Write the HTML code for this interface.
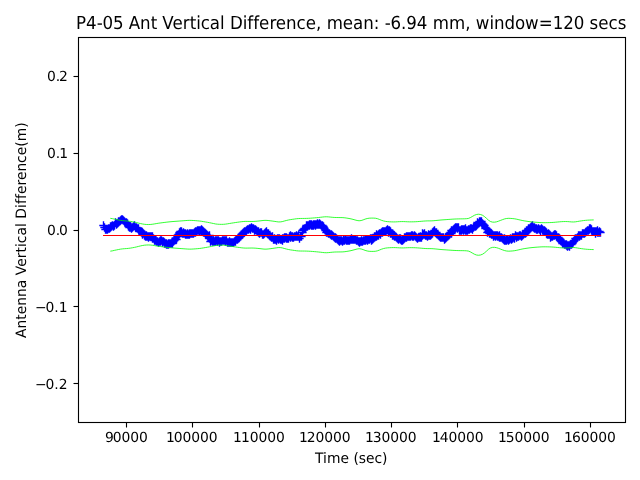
<!DOCTYPE html>
<html lang="en">
<head>
<meta charset="utf-8">
<title>P4-05 Ant Vertical Difference</title>
<style>
html,body{margin:0;padding:0;background:#fff;overflow:hidden}
svg{display:block}
text{font-family:'DejaVu Sans', 'Liberation Sans', sans-serif;fill:#000;text-rendering:geometricPrecision;}
.t{font-size:13.889px}
.h{font-size:16.667px}
</style>
</head>
<body>
<svg width="640" height="480" viewBox="0 0 640 480">
<rect x="0" y="0" width="640" height="480" fill="#fff"/>
<g id="series-diff"><path d="M99.3 225.5h8.33M103.5 221.3v8.33M100.3 227.5h8.33M104.5 223.3v8.33M101.3 229.5h8.33M105.5 225.3v8.33M101.3 229.5h8.33M105.5 225.3v8.33M102.3 229.5h8.33M106.5 225.3v8.33M103.3 229.5h8.33M107.5 225.3v8.33M103.3 229.5h8.33M107.5 225.3v8.33M104.3 228.5h8.33M108.5 224.3v8.33M105.3 228.5h8.33M109.5 224.3v8.33M105.3 228.5h8.33M109.5 224.3v8.33M106.3 227.5h8.33M110.5 223.3v8.33M106.3 226.5h8.33M110.5 222.3v8.33M107.3 226.5h8.33M111.5 222.3v8.33M108.3 225.5h8.33M112.5 221.3v8.33M108.3 225.5h8.33M112.5 221.3v8.33M109.3 226.5h8.33M113.5 222.3v8.33M110.3 225.5h8.33M114.5 221.3v8.33M110.3 225.5h8.33M114.5 221.3v8.33M111.3 222.5h8.33M115.5 218.3v8.33M112.3 223.5h8.33M116.5 219.3v8.33M112.3 224.5h8.33M116.5 220.3v8.33M113.3 223.5h8.33M117.5 219.3v8.33M114.3 222.5h8.33M118.5 218.3v8.33M114.3 221.5h8.33M118.5 217.3v8.33M115.3 221.5h8.33M119.5 217.3v8.33M116.3 220.5h8.33M120.5 216.3v8.33M116.3 220.5h8.33M120.5 216.3v8.33M117.3 219.5h8.33M121.5 215.3v8.33M118.3 219.5h8.33M122.5 215.3v8.33M118.3 219.5h8.33M122.5 215.3v8.33M119.3 220.5h8.33M123.5 216.3v8.33M120.3 221.5h8.33M124.5 217.3v8.33M120.3 221.5h8.33M124.5 217.3v8.33M121.3 222.5h8.33M125.5 218.3v8.33M122.3 222.5h8.33M126.5 218.3v8.33M122.3 223.5h8.33M126.5 219.3v8.33M123.3 223.5h8.33M127.5 219.3v8.33M124.3 225.5h8.33M128.5 221.3v8.33M124.3 226.5h8.33M128.5 222.3v8.33M125.3 227.5h8.33M129.5 223.3v8.33M126.3 226.5h8.33M130.5 222.3v8.33M126.3 227.5h8.33M130.5 223.3v8.33M127.3 228.5h8.33M131.5 224.3v8.33M128.3 227.5h8.33M132.5 223.3v8.33M128.3 227.5h8.33M132.5 223.3v8.33M129.3 226.5h8.33M133.5 222.3v8.33M130.3 225.5h8.33M134.5 221.3v8.33M130.3 225.5h8.33M134.5 221.3v8.33M131.3 227.5h8.33M135.5 223.3v8.33M132.3 227.5h8.33M136.5 223.3v8.33M132.3 227.5h8.33M136.5 223.3v8.33M133.3 228.5h8.33M137.5 224.3v8.33M134.3 228.5h8.33M138.5 224.3v8.33M134.3 229.5h8.33M138.5 225.3v8.33M135.3 231.5h8.33M139.5 227.3v8.33M136.3 231.5h8.33M140.5 227.3v8.33M136.3 231.5h8.33M140.5 227.3v8.33M137.3 231.5h8.33M141.5 227.3v8.33M138.3 232.5h8.33M142.5 228.3v8.33M138.3 234.5h8.33M142.5 230.3v8.33M139.3 233.5h8.33M143.5 229.3v8.33M140.3 234.5h8.33M144.5 230.3v8.33M140.3 235.5h8.33M144.5 231.3v8.33M141.3 236.5h8.33M145.5 232.3v8.33M142.3 236.5h8.33M146.5 232.3v8.33M142.3 235.5h8.33M146.5 231.3v8.33M143.3 236.5h8.33M147.5 232.3v8.33M144.3 237.5h8.33M148.5 233.3v8.33M144.3 236.5h8.33M148.5 232.3v8.33M145.3 236.5h8.33M149.5 232.3v8.33M146.3 236.5h8.33M150.5 232.3v8.33M146.3 236.5h8.33M150.5 232.3v8.33M147.3 236.5h8.33M151.5 232.3v8.33M148.3 236.5h8.33M152.5 232.3v8.33M148.3 238.5h8.33M152.5 234.3v8.33M149.3 238.5h8.33M153.5 234.3v8.33M150.3 239.5h8.33M154.5 235.3v8.33M150.3 240.5h8.33M154.5 236.3v8.33M151.3 240.5h8.33M155.5 236.3v8.33M152.3 241.5h8.33M156.5 237.3v8.33M152.3 241.5h8.33M156.5 237.3v8.33M153.3 241.5h8.33M157.5 237.3v8.33M154.3 242.5h8.33M158.5 238.3v8.33M154.3 242.5h8.33M158.5 238.3v8.33M155.3 241.5h8.33M159.5 237.3v8.33M156.3 240.5h8.33M160.5 236.3v8.33M156.3 241.5h8.33M160.5 237.3v8.33M157.3 240.5h8.33M161.5 236.3v8.33M158.3 241.5h8.33M162.5 237.3v8.33M158.3 242.5h8.33M162.5 238.3v8.33M159.3 241.5h8.33M163.5 237.3v8.33M160.3 243.5h8.33M164.5 239.3v8.33M160.3 242.5h8.33M164.5 238.3v8.33M161.3 243.5h8.33M165.5 239.3v8.33M162.3 243.5h8.33M166.5 239.3v8.33M162.3 244.5h8.33M166.5 240.3v8.33M163.3 244.5h8.33M167.5 240.3v8.33M164.3 243.5h8.33M168.5 239.3v8.33M164.3 244.5h8.33M168.5 240.3v8.33M165.3 243.5h8.33M169.5 239.3v8.33M166.3 243.5h8.33M170.5 239.3v8.33M166.3 243.5h8.33M170.5 239.3v8.33M167.3 243.5h8.33M171.5 239.3v8.33M168.3 243.5h8.33M172.5 239.3v8.33M168.3 241.5h8.33M172.5 237.3v8.33M169.3 241.5h8.33M173.5 237.3v8.33M170.3 240.5h8.33M174.5 236.3v8.33M170.3 240.5h8.33M174.5 236.3v8.33M171.3 239.5h8.33M175.5 235.3v8.33M171.3 238.5h8.33M175.5 234.3v8.33M172.3 239.5h8.33M176.5 235.3v8.33M173.3 236.5h8.33M177.5 232.3v8.33M173.3 235.5h8.33M177.5 231.3v8.33M174.3 234.5h8.33M178.5 230.3v8.33M175.3 233.5h8.33M179.5 229.3v8.33M175.3 232.5h8.33M179.5 228.3v8.33M176.3 231.5h8.33M180.5 227.3v8.33M177.3 232.5h8.33M181.5 228.3v8.33M177.3 231.5h8.33M181.5 227.3v8.33M178.3 233.5h8.33M182.5 229.3v8.33M179.3 233.5h8.33M183.5 229.3v8.33M179.3 232.5h8.33M183.5 228.3v8.33M180.3 233.5h8.33M184.5 229.3v8.33M181.3 233.5h8.33M185.5 229.3v8.33M181.3 234.5h8.33M185.5 230.3v8.33M182.3 234.5h8.33M186.5 230.3v8.33M183.3 234.5h8.33M187.5 230.3v8.33M183.3 233.5h8.33M187.5 229.3v8.33M184.3 234.5h8.33M188.5 230.3v8.33M185.3 234.5h8.33M189.5 230.3v8.33M185.3 233.5h8.33M189.5 229.3v8.33M186.3 233.5h8.33M190.5 229.3v8.33M187.3 233.5h8.33M191.5 229.3v8.33M187.3 233.5h8.33M191.5 229.3v8.33M188.3 233.5h8.33M192.5 229.3v8.33M189.3 233.5h8.33M193.5 229.3v8.33M189.3 233.5h8.33M193.5 229.3v8.33M190.3 232.5h8.33M194.5 228.3v8.33M191.3 231.5h8.33M195.5 227.3v8.33M191.3 232.5h8.33M195.5 228.3v8.33M192.3 231.5h8.33M196.5 227.3v8.33M193.3 230.5h8.33M197.5 226.3v8.33M193.3 230.5h8.33M197.5 226.3v8.33M194.3 230.5h8.33M198.5 226.3v8.33M195.3 231.5h8.33M199.5 227.3v8.33M195.3 230.5h8.33M199.5 226.3v8.33M196.3 230.5h8.33M200.5 226.3v8.33M197.3 229.5h8.33M201.5 225.3v8.33M197.3 231.5h8.33M201.5 227.3v8.33M198.3 230.5h8.33M202.5 226.3v8.33M199.3 231.5h8.33M203.5 227.3v8.33M199.3 232.5h8.33M203.5 228.3v8.33M200.3 232.5h8.33M204.5 228.3v8.33M201.3 233.5h8.33M205.5 229.3v8.33M201.3 234.5h8.33M205.5 230.3v8.33M202.3 234.5h8.33M206.5 230.3v8.33M203.3 235.5h8.33M207.5 231.3v8.33M203.3 235.5h8.33M207.5 231.3v8.33M204.3 236.5h8.33M208.5 232.3v8.33M205.3 235.5h8.33M209.5 231.3v8.33M205.3 238.5h8.33M209.5 234.3v8.33M206.3 241.5h8.33M210.5 237.3v8.33M207.3 240.5h8.33M211.5 236.3v8.33M207.3 240.5h8.33M211.5 236.3v8.33M208.3 241.5h8.33M212.5 237.3v8.33M209.3 241.5h8.33M213.5 237.3v8.33M209.3 240.5h8.33M213.5 236.3v8.33M210.3 241.5h8.33M214.5 237.3v8.33M211.3 240.5h8.33M215.5 236.3v8.33M211.3 241.5h8.33M215.5 237.3v8.33M212.3 240.5h8.33M216.5 236.3v8.33M213.3 240.5h8.33M217.5 236.3v8.33M213.3 241.5h8.33M217.5 237.3v8.33M214.3 240.5h8.33M218.5 236.3v8.33M215.3 241.5h8.33M219.5 237.3v8.33M215.3 242.5h8.33M219.5 238.3v8.33M216.3 241.5h8.33M220.5 237.3v8.33M217.3 241.5h8.33M221.5 237.3v8.33M217.3 241.5h8.33M221.5 237.3v8.33M218.3 240.5h8.33M222.5 236.3v8.33M219.3 240.5h8.33M223.5 236.3v8.33M219.3 240.5h8.33M223.5 236.3v8.33M220.3 240.5h8.33M224.5 236.3v8.33M221.3 240.5h8.33M225.5 236.3v8.33M221.3 241.5h8.33M225.5 237.3v8.33M222.3 240.5h8.33M226.5 236.3v8.33M223.3 242.5h8.33M227.5 238.3v8.33M223.3 242.5h8.33M227.5 238.3v8.33M224.3 242.5h8.33M228.5 238.3v8.33M225.3 241.5h8.33M229.5 237.3v8.33M225.3 242.5h8.33M229.5 238.3v8.33M226.3 242.5h8.33M230.5 238.3v8.33M227.3 242.5h8.33M231.5 238.3v8.33M227.3 242.5h8.33M231.5 238.3v8.33M228.3 242.5h8.33M232.5 238.3v8.33M229.3 242.5h8.33M233.5 238.3v8.33M229.3 242.5h8.33M233.5 238.3v8.33M230.3 241.5h8.33M234.5 237.3v8.33M231.3 241.5h8.33M235.5 237.3v8.33M231.3 240.5h8.33M235.5 236.3v8.33M232.3 239.5h8.33M236.5 235.3v8.33M233.3 239.5h8.33M237.5 235.3v8.33M233.3 239.5h8.33M237.5 235.3v8.33M234.3 238.5h8.33M238.5 234.3v8.33M235.3 237.5h8.33M239.5 233.3v8.33M235.3 237.5h8.33M239.5 233.3v8.33M236.3 236.5h8.33M240.5 232.3v8.33M236.3 236.5h8.33M240.5 232.3v8.33M237.3 234.5h8.33M241.5 230.3v8.33M238.3 234.5h8.33M242.5 230.3v8.33M238.3 233.5h8.33M242.5 229.3v8.33M239.3 232.5h8.33M243.5 228.3v8.33M240.3 232.5h8.33M244.5 228.3v8.33M240.3 231.5h8.33M244.5 227.3v8.33M241.3 231.5h8.33M245.5 227.3v8.33M242.3 230.5h8.33M246.5 226.3v8.33M242.3 230.5h8.33M246.5 226.3v8.33M243.3 229.5h8.33M247.5 225.3v8.33M244.3 229.5h8.33M248.5 225.3v8.33M244.3 229.5h8.33M248.5 225.3v8.33M245.3 228.5h8.33M249.5 224.3v8.33M246.3 229.5h8.33M250.5 225.3v8.33M246.3 228.5h8.33M250.5 224.3v8.33M247.3 227.5h8.33M251.5 223.3v8.33M248.3 228.5h8.33M252.5 224.3v8.33M248.3 228.5h8.33M252.5 224.3v8.33M249.3 228.5h8.33M253.5 224.3v8.33M250.3 229.5h8.33M254.5 225.3v8.33M250.3 230.5h8.33M254.5 226.3v8.33M251.3 229.5h8.33M255.5 225.3v8.33M252.3 230.5h8.33M256.5 226.3v8.33M252.3 230.5h8.33M256.5 226.3v8.33M253.3 231.5h8.33M257.5 227.3v8.33M254.3 231.5h8.33M258.5 227.3v8.33M254.3 232.5h8.33M258.5 228.3v8.33M255.3 233.5h8.33M259.5 229.3v8.33M256.3 232.5h8.33M260.5 228.3v8.33M256.3 232.5h8.33M260.5 228.3v8.33M257.3 232.5h8.33M261.5 228.3v8.33M258.3 234.5h8.33M262.5 230.3v8.33M258.3 234.5h8.33M262.5 230.3v8.33M259.3 234.5h8.33M263.5 230.3v8.33M260.3 233.5h8.33M264.5 229.3v8.33M260.3 233.5h8.33M264.5 229.3v8.33M261.3 232.5h8.33M265.5 228.3v8.33M262.3 232.5h8.33M266.5 228.3v8.33M262.3 231.5h8.33M266.5 227.3v8.33M263.3 233.5h8.33M267.5 229.3v8.33M264.3 233.5h8.33M268.5 229.3v8.33M264.3 234.5h8.33M268.5 230.3v8.33M265.3 235.5h8.33M269.5 231.3v8.33M266.3 236.5h8.33M270.5 232.3v8.33M266.3 236.5h8.33M270.5 232.3v8.33M267.3 237.5h8.33M271.5 233.3v8.33M268.3 236.5h8.33M272.5 232.3v8.33M268.3 237.5h8.33M272.5 233.3v8.33M269.3 239.5h8.33M273.5 235.3v8.33M270.3 238.5h8.33M274.5 234.3v8.33M270.3 239.5h8.33M274.5 235.3v8.33M271.3 239.5h8.33M275.5 235.3v8.33M272.3 239.5h8.33M276.5 235.3v8.33M272.3 240.5h8.33M276.5 236.3v8.33M273.3 238.5h8.33M277.5 234.3v8.33M274.3 238.5h8.33M278.5 234.3v8.33M274.3 239.5h8.33M278.5 235.3v8.33M275.3 238.5h8.33M279.5 234.3v8.33M276.3 239.5h8.33M280.5 235.3v8.33M276.3 239.5h8.33M280.5 235.3v8.33M277.3 239.5h8.33M281.5 235.3v8.33M278.3 238.5h8.33M282.5 234.3v8.33M278.3 240.5h8.33M282.5 236.3v8.33M279.3 238.5h8.33M283.5 234.3v8.33M280.3 237.5h8.33M284.5 233.3v8.33M280.3 238.5h8.33M284.5 234.3v8.33M281.3 237.5h8.33M285.5 233.3v8.33M282.3 237.5h8.33M286.5 233.3v8.33M282.3 238.5h8.33M286.5 234.3v8.33M283.3 238.5h8.33M287.5 234.3v8.33M284.3 238.5h8.33M288.5 234.3v8.33M284.3 238.5h8.33M288.5 234.3v8.33M285.3 236.5h8.33M289.5 232.3v8.33M286.3 235.5h8.33M290.5 231.3v8.33M286.3 237.5h8.33M290.5 233.3v8.33M287.3 236.5h8.33M291.5 232.3v8.33M288.3 236.5h8.33M292.5 232.3v8.33M288.3 237.5h8.33M292.5 233.3v8.33M289.3 237.5h8.33M293.5 233.3v8.33M290.3 236.5h8.33M294.5 232.3v8.33M290.3 236.5h8.33M294.5 232.3v8.33M291.3 236.5h8.33M295.5 232.3v8.33M292.3 236.5h8.33M296.5 232.3v8.33M292.3 235.5h8.33M296.5 231.3v8.33M293.3 236.5h8.33M297.5 232.3v8.33M294.3 235.5h8.33M298.5 231.3v8.33M294.3 236.5h8.33M298.5 232.3v8.33M295.3 238.5h8.33M299.5 234.3v8.33M296.3 236.5h8.33M300.5 232.3v8.33M296.3 236.5h8.33M300.5 232.3v8.33M297.3 236.5h8.33M301.5 232.3v8.33M298.3 232.5h8.33M302.5 228.3v8.33M298.3 230.5h8.33M302.5 226.3v8.33M299.3 229.5h8.33M303.5 225.3v8.33M300.3 228.5h8.33M304.5 224.3v8.33M300.3 228.5h8.33M304.5 224.3v8.33M301.3 228.5h8.33M305.5 224.3v8.33M302.3 225.5h8.33M306.5 221.3v8.33M302.3 226.5h8.33M306.5 222.3v8.33M303.3 226.5h8.33M307.5 222.3v8.33M303.3 225.5h8.33M307.5 221.3v8.33M304.3 225.5h8.33M308.5 221.3v8.33M305.3 224.5h8.33M309.5 220.3v8.33M305.3 225.5h8.33M309.5 221.3v8.33M306.3 224.5h8.33M310.5 220.3v8.33M307.3 224.5h8.33M311.5 220.3v8.33M307.3 225.5h8.33M311.5 221.3v8.33M308.3 225.5h8.33M312.5 221.3v8.33M309.3 224.5h8.33M313.5 220.3v8.33M309.3 225.5h8.33M313.5 221.3v8.33M310.3 224.5h8.33M314.5 220.3v8.33M311.3 224.5h8.33M315.5 220.3v8.33M311.3 225.5h8.33M315.5 221.3v8.33M312.3 224.5h8.33M316.5 220.3v8.33M313.3 224.5h8.33M317.5 220.3v8.33M313.3 223.5h8.33M317.5 219.3v8.33M314.3 224.5h8.33M318.5 220.3v8.33M315.3 224.5h8.33M319.5 220.3v8.33M315.3 223.5h8.33M319.5 219.3v8.33M316.3 224.5h8.33M320.5 220.3v8.33M317.3 225.5h8.33M321.5 221.3v8.33M317.3 225.5h8.33M321.5 221.3v8.33M318.3 225.5h8.33M322.5 221.3v8.33M319.3 226.5h8.33M323.5 222.3v8.33M319.3 227.5h8.33M323.5 223.3v8.33M320.3 228.5h8.33M324.5 224.3v8.33M321.3 230.5h8.33M325.5 226.3v8.33M321.3 230.5h8.33M325.5 226.3v8.33M322.3 232.5h8.33M326.5 228.3v8.33M323.3 231.5h8.33M327.5 227.3v8.33M323.3 232.5h8.33M327.5 228.3v8.33M324.3 233.5h8.33M328.5 229.3v8.33M325.3 233.5h8.33M329.5 229.3v8.33M325.3 233.5h8.33M329.5 229.3v8.33M326.3 234.5h8.33M330.5 230.3v8.33M327.3 235.5h8.33M331.5 231.3v8.33M327.3 234.5h8.33M331.5 230.3v8.33M328.3 235.5h8.33M332.5 231.3v8.33M329.3 236.5h8.33M333.5 232.3v8.33M329.3 236.5h8.33M333.5 232.3v8.33M330.3 237.5h8.33M334.5 233.3v8.33M331.3 237.5h8.33M335.5 233.3v8.33M331.3 238.5h8.33M335.5 234.3v8.33M332.3 238.5h8.33M336.5 234.3v8.33M333.3 239.5h8.33M337.5 235.3v8.33M333.3 239.5h8.33M337.5 235.3v8.33M334.3 240.5h8.33M338.5 236.3v8.33M335.3 240.5h8.33M339.5 236.3v8.33M335.3 241.5h8.33M339.5 237.3v8.33M336.3 240.5h8.33M340.5 236.3v8.33M337.3 240.5h8.33M341.5 236.3v8.33M337.3 240.5h8.33M341.5 236.3v8.33M338.3 241.5h8.33M342.5 237.3v8.33M339.3 240.5h8.33M343.5 236.3v8.33M339.3 239.5h8.33M343.5 235.3v8.33M340.3 240.5h8.33M344.5 236.3v8.33M341.3 239.5h8.33M345.5 235.3v8.33M341.3 239.5h8.33M345.5 235.3v8.33M342.3 240.5h8.33M346.5 236.3v8.33M343.3 240.5h8.33M347.5 236.3v8.33M343.3 240.5h8.33M347.5 236.3v8.33M344.3 240.5h8.33M348.5 236.3v8.33M345.3 240.5h8.33M349.5 236.3v8.33M345.3 240.5h8.33M349.5 236.3v8.33M346.3 239.5h8.33M350.5 235.3v8.33M347.3 239.5h8.33M351.5 235.3v8.33M347.3 238.5h8.33M351.5 234.3v8.33M348.3 239.5h8.33M352.5 235.3v8.33M349.3 239.5h8.33M353.5 235.3v8.33M349.3 239.5h8.33M353.5 235.3v8.33M350.3 239.5h8.33M354.5 235.3v8.33M351.3 239.5h8.33M355.5 235.3v8.33M351.3 239.5h8.33M355.5 235.3v8.33M352.3 240.5h8.33M356.5 236.3v8.33M353.3 240.5h8.33M357.5 236.3v8.33M353.3 240.5h8.33M357.5 236.3v8.33M354.3 241.5h8.33M358.5 237.3v8.33M355.3 241.5h8.33M359.5 237.3v8.33M355.3 242.5h8.33M359.5 238.3v8.33M356.3 241.5h8.33M360.5 237.3v8.33M357.3 240.5h8.33M361.5 236.3v8.33M357.3 241.5h8.33M361.5 237.3v8.33M358.3 241.5h8.33M362.5 237.3v8.33M359.3 240.5h8.33M363.5 236.3v8.33M359.3 240.5h8.33M363.5 236.3v8.33M360.3 240.5h8.33M364.5 236.3v8.33M361.3 240.5h8.33M365.5 236.3v8.33M361.3 239.5h8.33M365.5 235.3v8.33M362.3 239.5h8.33M366.5 235.3v8.33M363.3 239.5h8.33M367.5 235.3v8.33M363.3 240.5h8.33M367.5 236.3v8.33M364.3 239.5h8.33M368.5 235.3v8.33M365.3 239.5h8.33M369.5 235.3v8.33M365.3 239.5h8.33M369.5 235.3v8.33M366.3 238.5h8.33M370.5 234.3v8.33M367.3 238.5h8.33M371.5 234.3v8.33M367.3 240.5h8.33M371.5 236.3v8.33M368.3 238.5h8.33M372.5 234.3v8.33M368.3 239.5h8.33M372.5 235.3v8.33M369.3 238.5h8.33M373.5 234.3v8.33M370.3 237.5h8.33M374.5 233.3v8.33M370.3 236.5h8.33M374.5 232.3v8.33M371.3 236.5h8.33M375.5 232.3v8.33M372.3 236.5h8.33M376.5 232.3v8.33M372.3 234.5h8.33M376.5 230.3v8.33M373.3 235.5h8.33M377.5 231.3v8.33M374.3 234.5h8.33M378.5 230.3v8.33M374.3 235.5h8.33M378.5 231.3v8.33M375.3 233.5h8.33M379.5 229.3v8.33M376.3 234.5h8.33M380.5 230.3v8.33M376.3 233.5h8.33M380.5 229.3v8.33M377.3 232.5h8.33M381.5 228.3v8.33M378.3 231.5h8.33M382.5 227.3v8.33M378.3 232.5h8.33M382.5 228.3v8.33M379.3 231.5h8.33M383.5 227.3v8.33M380.3 231.5h8.33M384.5 227.3v8.33M380.3 231.5h8.33M384.5 227.3v8.33M381.3 231.5h8.33M385.5 227.3v8.33M382.3 230.5h8.33M386.5 226.3v8.33M382.3 230.5h8.33M386.5 226.3v8.33M383.3 229.5h8.33M387.5 225.3v8.33M384.3 230.5h8.33M388.5 226.3v8.33M384.3 232.5h8.33M388.5 228.3v8.33M385.3 230.5h8.33M389.5 226.3v8.33M386.3 233.5h8.33M390.5 229.3v8.33M386.3 231.5h8.33M390.5 227.3v8.33M387.3 233.5h8.33M391.5 229.3v8.33M388.3 233.5h8.33M392.5 229.3v8.33M388.3 235.5h8.33M392.5 231.3v8.33M389.3 235.5h8.33M393.5 231.3v8.33M390.3 235.5h8.33M394.5 231.3v8.33M390.3 236.5h8.33M394.5 232.3v8.33M391.3 236.5h8.33M395.5 232.3v8.33M392.3 237.5h8.33M396.5 233.3v8.33M392.3 237.5h8.33M396.5 233.3v8.33M393.3 238.5h8.33M397.5 234.3v8.33M394.3 239.5h8.33M398.5 235.3v8.33M394.3 239.5h8.33M398.5 235.3v8.33M395.3 238.5h8.33M399.5 234.3v8.33M396.3 238.5h8.33M400.5 234.3v8.33M396.3 239.5h8.33M400.5 235.3v8.33M397.3 240.5h8.33M401.5 236.3v8.33M398.3 240.5h8.33M402.5 236.3v8.33M398.3 239.5h8.33M402.5 235.3v8.33M399.3 239.5h8.33M403.5 235.3v8.33M400.3 238.5h8.33M404.5 234.3v8.33M400.3 237.5h8.33M404.5 233.3v8.33M401.3 237.5h8.33M405.5 233.3v8.33M402.3 237.5h8.33M406.5 233.3v8.33M402.3 236.5h8.33M406.5 232.3v8.33M403.3 236.5h8.33M407.5 232.3v8.33M404.3 236.5h8.33M408.5 232.3v8.33M404.3 236.5h8.33M408.5 232.3v8.33M405.3 236.5h8.33M409.5 232.3v8.33M406.3 236.5h8.33M410.5 232.3v8.33M406.3 236.5h8.33M410.5 232.3v8.33M407.3 235.5h8.33M411.5 231.3v8.33M408.3 235.5h8.33M412.5 231.3v8.33M408.3 236.5h8.33M412.5 232.3v8.33M409.3 236.5h8.33M413.5 232.3v8.33M410.3 235.5h8.33M414.5 231.3v8.33M410.3 235.5h8.33M414.5 231.3v8.33M411.3 236.5h8.33M415.5 232.3v8.33M412.3 237.5h8.33M416.5 233.3v8.33M412.3 237.5h8.33M416.5 233.3v8.33M413.3 238.5h8.33M417.5 234.3v8.33M414.3 237.5h8.33M418.5 233.3v8.33M414.3 237.5h8.33M418.5 233.3v8.33M415.3 237.5h8.33M419.5 233.3v8.33M416.3 237.5h8.33M420.5 233.3v8.33M416.3 236.5h8.33M420.5 232.3v8.33M417.3 237.5h8.33M421.5 233.3v8.33M418.3 235.5h8.33M422.5 231.3v8.33M418.3 233.5h8.33M422.5 229.3v8.33M419.3 234.5h8.33M423.5 230.3v8.33M420.3 233.5h8.33M424.5 229.3v8.33M420.3 234.5h8.33M424.5 230.3v8.33M421.3 235.5h8.33M425.5 231.3v8.33M422.3 235.5h8.33M426.5 231.3v8.33M422.3 235.5h8.33M426.5 231.3v8.33M423.3 236.5h8.33M427.5 232.3v8.33M424.3 235.5h8.33M428.5 231.3v8.33M424.3 234.5h8.33M428.5 230.3v8.33M425.3 235.5h8.33M429.5 231.3v8.33M426.3 235.5h8.33M430.5 231.3v8.33M426.3 235.5h8.33M430.5 231.3v8.33M427.3 234.5h8.33M431.5 230.3v8.33M428.3 233.5h8.33M432.5 229.3v8.33M428.3 232.5h8.33M432.5 228.3v8.33M429.3 231.5h8.33M433.5 227.3v8.33M430.3 230.5h8.33M434.5 226.3v8.33M430.3 231.5h8.33M434.5 227.3v8.33M431.3 232.5h8.33M435.5 228.3v8.33M432.3 232.5h8.33M436.5 228.3v8.33M432.3 233.5h8.33M436.5 229.3v8.33M433.3 234.5h8.33M437.5 230.3v8.33M433.3 234.5h8.33M437.5 230.3v8.33M434.3 235.5h8.33M438.5 231.3v8.33M435.3 236.5h8.33M439.5 232.3v8.33M435.3 236.5h8.33M439.5 232.3v8.33M436.3 237.5h8.33M440.5 233.3v8.33M437.3 237.5h8.33M441.5 233.3v8.33M437.3 237.5h8.33M441.5 233.3v8.33M438.3 237.5h8.33M442.5 233.3v8.33M439.3 237.5h8.33M443.5 233.3v8.33M439.3 237.5h8.33M443.5 233.3v8.33M440.3 239.5h8.33M444.5 235.3v8.33M441.3 238.5h8.33M445.5 234.3v8.33M441.3 237.5h8.33M445.5 233.3v8.33M442.3 237.5h8.33M446.5 233.3v8.33M443.3 236.5h8.33M447.5 232.3v8.33M443.3 236.5h8.33M447.5 232.3v8.33M444.3 235.5h8.33M448.5 231.3v8.33M445.3 234.5h8.33M449.5 230.3v8.33M445.3 233.5h8.33M449.5 229.3v8.33M446.3 232.5h8.33M450.5 228.3v8.33M447.3 233.5h8.33M451.5 229.3v8.33M447.3 230.5h8.33M451.5 226.3v8.33M448.3 230.5h8.33M452.5 226.3v8.33M449.3 230.5h8.33M453.5 226.3v8.33M449.3 229.5h8.33M453.5 225.3v8.33M450.3 228.5h8.33M454.5 224.3v8.33M451.3 228.5h8.33M455.5 224.3v8.33M451.3 227.5h8.33M455.5 223.3v8.33M452.3 227.5h8.33M456.5 223.3v8.33M453.3 228.5h8.33M457.5 224.3v8.33M453.3 227.5h8.33M457.5 223.3v8.33M454.3 227.5h8.33M458.5 223.3v8.33M455.3 230.5h8.33M459.5 226.3v8.33M455.3 230.5h8.33M459.5 226.3v8.33M456.3 230.5h8.33M460.5 226.3v8.33M457.3 229.5h8.33M461.5 225.3v8.33M457.3 230.5h8.33M461.5 226.3v8.33M458.3 229.5h8.33M462.5 225.3v8.33M459.3 230.5h8.33M463.5 226.3v8.33M459.3 229.5h8.33M463.5 225.3v8.33M460.3 229.5h8.33M464.5 225.3v8.33M461.3 228.5h8.33M465.5 224.3v8.33M461.3 230.5h8.33M465.5 226.3v8.33M462.3 230.5h8.33M466.5 226.3v8.33M463.3 230.5h8.33M467.5 226.3v8.33M463.3 230.5h8.33M467.5 226.3v8.33M464.3 229.5h8.33M468.5 225.3v8.33M465.3 229.5h8.33M469.5 225.3v8.33M465.3 229.5h8.33M469.5 225.3v8.33M466.3 228.5h8.33M470.5 224.3v8.33M467.3 228.5h8.33M471.5 224.3v8.33M467.3 228.5h8.33M471.5 224.3v8.33M468.3 229.5h8.33M472.5 225.3v8.33M469.3 227.5h8.33M473.5 223.3v8.33M469.3 227.5h8.33M473.5 223.3v8.33M470.3 226.5h8.33M474.5 222.3v8.33M471.3 226.5h8.33M475.5 222.3v8.33M471.3 226.5h8.33M475.5 222.3v8.33M472.3 225.5h8.33M476.5 221.3v8.33M473.3 224.5h8.33M477.5 220.3v8.33M473.3 222.5h8.33M477.5 218.3v8.33M474.3 223.5h8.33M478.5 219.3v8.33M475.3 222.5h8.33M479.5 218.3v8.33M475.3 221.5h8.33M479.5 217.3v8.33M476.3 221.5h8.33M480.5 217.3v8.33M477.3 221.5h8.33M481.5 217.3v8.33M477.3 222.5h8.33M481.5 218.3v8.33M478.3 223.5h8.33M482.5 219.3v8.33M479.3 224.5h8.33M483.5 220.3v8.33M479.3 224.5h8.33M483.5 220.3v8.33M480.3 225.5h8.33M484.5 221.3v8.33M481.3 227.5h8.33M485.5 223.3v8.33M481.3 228.5h8.33M485.5 224.3v8.33M482.3 228.5h8.33M486.5 224.3v8.33M483.3 229.5h8.33M487.5 225.3v8.33M483.3 232.5h8.33M487.5 228.3v8.33M484.3 231.5h8.33M488.5 227.3v8.33M485.3 233.5h8.33M489.5 229.3v8.33M485.3 232.5h8.33M489.5 228.3v8.33M486.3 233.5h8.33M490.5 229.3v8.33M487.3 234.5h8.33M491.5 230.3v8.33M487.3 233.5h8.33M491.5 229.3v8.33M488.3 234.5h8.33M492.5 230.3v8.33M489.3 235.5h8.33M493.5 231.3v8.33M489.3 236.5h8.33M493.5 232.3v8.33M490.3 235.5h8.33M494.5 231.3v8.33M491.3 236.5h8.33M495.5 232.3v8.33M491.3 235.5h8.33M495.5 231.3v8.33M492.3 235.5h8.33M496.5 231.3v8.33M493.3 236.5h8.33M497.5 232.3v8.33M493.3 235.5h8.33M497.5 231.3v8.33M494.3 236.5h8.33M498.5 232.3v8.33M495.3 235.5h8.33M499.5 231.3v8.33M495.3 237.5h8.33M499.5 233.3v8.33M496.3 237.5h8.33M500.5 233.3v8.33M497.3 237.5h8.33M501.5 233.3v8.33M497.3 237.5h8.33M501.5 233.3v8.33M498.3 238.5h8.33M502.5 234.3v8.33M498.3 238.5h8.33M502.5 234.3v8.33M499.3 239.5h8.33M503.5 235.3v8.33M500.3 238.5h8.33M504.5 234.3v8.33M500.3 240.5h8.33M504.5 236.3v8.33M501.3 240.5h8.33M505.5 236.3v8.33M502.3 239.5h8.33M506.5 235.3v8.33M502.3 240.5h8.33M506.5 236.3v8.33M503.3 239.5h8.33M507.5 235.3v8.33M504.3 240.5h8.33M508.5 236.3v8.33M504.3 240.5h8.33M508.5 236.3v8.33M505.3 239.5h8.33M509.5 235.3v8.33M506.3 238.5h8.33M510.5 234.3v8.33M506.3 238.5h8.33M510.5 234.3v8.33M507.3 239.5h8.33M511.5 235.3v8.33M508.3 238.5h8.33M512.5 234.3v8.33M508.3 237.5h8.33M512.5 233.3v8.33M509.3 237.5h8.33M513.5 233.3v8.33M510.3 237.5h8.33M514.5 233.3v8.33M510.3 238.5h8.33M514.5 234.3v8.33M511.3 235.5h8.33M515.5 231.3v8.33M512.3 237.5h8.33M516.5 233.3v8.33M512.3 236.5h8.33M516.5 232.3v8.33M513.3 236.5h8.33M517.5 232.3v8.33M514.3 236.5h8.33M518.5 232.3v8.33M514.3 236.5h8.33M518.5 232.3v8.33M515.3 235.5h8.33M519.5 231.3v8.33M516.3 235.5h8.33M520.5 231.3v8.33M516.3 235.5h8.33M520.5 231.3v8.33M517.3 236.5h8.33M521.5 232.3v8.33M518.3 235.5h8.33M522.5 231.3v8.33M518.3 234.5h8.33M522.5 230.3v8.33M519.3 234.5h8.33M523.5 230.3v8.33M520.3 233.5h8.33M524.5 229.3v8.33M520.3 233.5h8.33M524.5 229.3v8.33M521.3 233.5h8.33M525.5 229.3v8.33M522.3 232.5h8.33M526.5 228.3v8.33M522.3 230.5h8.33M526.5 226.3v8.33M523.3 231.5h8.33M527.5 227.3v8.33M524.3 230.5h8.33M528.5 226.3v8.33M524.3 228.5h8.33M528.5 224.3v8.33M525.3 228.5h8.33M529.5 224.3v8.33M526.3 227.5h8.33M530.5 223.3v8.33M526.3 227.5h8.33M530.5 223.3v8.33M527.3 226.5h8.33M531.5 222.3v8.33M528.3 225.5h8.33M532.5 221.3v8.33M528.3 226.5h8.33M532.5 222.3v8.33M529.3 227.5h8.33M533.5 223.3v8.33M530.3 227.5h8.33M534.5 223.3v8.33M530.3 228.5h8.33M534.5 224.3v8.33M531.3 228.5h8.33M535.5 224.3v8.33M532.3 229.5h8.33M536.5 225.3v8.33M532.3 228.5h8.33M536.5 224.3v8.33M533.3 229.5h8.33M537.5 225.3v8.33M534.3 228.5h8.33M538.5 224.3v8.33M534.3 228.5h8.33M538.5 224.3v8.33M535.3 229.5h8.33M539.5 225.3v8.33M536.3 231.5h8.33M540.5 227.3v8.33M536.3 229.5h8.33M540.5 225.3v8.33M537.3 228.5h8.33M541.5 224.3v8.33M538.3 230.5h8.33M542.5 226.3v8.33M538.3 229.5h8.33M542.5 225.3v8.33M539.3 230.5h8.33M543.5 226.3v8.33M540.3 230.5h8.33M544.5 226.3v8.33M540.3 231.5h8.33M544.5 227.3v8.33M541.3 231.5h8.33M545.5 227.3v8.33M542.3 232.5h8.33M546.5 228.3v8.33M542.3 233.5h8.33M546.5 229.3v8.33M543.3 234.5h8.33M547.5 230.3v8.33M544.3 233.5h8.33M548.5 229.3v8.33M544.3 234.5h8.33M548.5 230.3v8.33M545.3 234.5h8.33M549.5 230.3v8.33M546.3 235.5h8.33M550.5 231.3v8.33M546.3 237.5h8.33M550.5 233.3v8.33M547.3 236.5h8.33M551.5 232.3v8.33M548.3 236.5h8.33M552.5 232.3v8.33M548.3 236.5h8.33M552.5 232.3v8.33M549.3 235.5h8.33M553.5 231.3v8.33M550.3 235.5h8.33M554.5 231.3v8.33M550.3 234.5h8.33M554.5 230.3v8.33M551.3 234.5h8.33M555.5 230.3v8.33M552.3 235.5h8.33M556.5 231.3v8.33M552.3 236.5h8.33M556.5 232.3v8.33M553.3 237.5h8.33M557.5 233.3v8.33M554.3 237.5h8.33M558.5 233.3v8.33M554.3 238.5h8.33M558.5 234.3v8.33M555.3 238.5h8.33M559.5 234.3v8.33M556.3 239.5h8.33M560.5 235.3v8.33M556.3 240.5h8.33M560.5 236.3v8.33M557.3 241.5h8.33M561.5 237.3v8.33M558.3 243.5h8.33M562.5 239.3v8.33M558.3 242.5h8.33M562.5 238.3v8.33M559.3 243.5h8.33M563.5 239.3v8.33M560.3 244.5h8.33M564.5 240.3v8.33M560.3 244.5h8.33M564.5 240.3v8.33M561.3 244.5h8.33M565.5 240.3v8.33M562.3 244.5h8.33M566.5 240.3v8.33M562.3 245.5h8.33M566.5 241.3v8.33M563.3 246.5h8.33M567.5 242.3v8.33M563.3 245.5h8.33M567.5 241.3v8.33M564.3 245.5h8.33M568.5 241.3v8.33M565.3 246.5h8.33M569.5 242.3v8.33M565.3 246.5h8.33M569.5 242.3v8.33M566.3 244.5h8.33M570.5 240.3v8.33M567.3 244.5h8.33M571.5 240.3v8.33M567.3 244.5h8.33M571.5 240.3v8.33M568.3 243.5h8.33M572.5 239.3v8.33M569.3 241.5h8.33M573.5 237.3v8.33M569.3 241.5h8.33M573.5 237.3v8.33M570.3 240.5h8.33M574.5 236.3v8.33M571.3 238.5h8.33M575.5 234.3v8.33M571.3 238.5h8.33M575.5 234.3v8.33M572.3 238.5h8.33M576.5 234.3v8.33M573.3 237.5h8.33M577.5 233.3v8.33M573.3 237.5h8.33M577.5 233.3v8.33M574.3 235.5h8.33M578.5 231.3v8.33M575.3 236.5h8.33M579.5 232.3v8.33M575.3 235.5h8.33M579.5 231.3v8.33M576.3 235.5h8.33M580.5 231.3v8.33M577.3 235.5h8.33M581.5 231.3v8.33M577.3 235.5h8.33M581.5 231.3v8.33M578.3 233.5h8.33M582.5 229.3v8.33M579.3 233.5h8.33M583.5 229.3v8.33M579.3 233.5h8.33M583.5 229.3v8.33M580.3 233.5h8.33M584.5 229.3v8.33M581.3 232.5h8.33M585.5 228.3v8.33M581.3 232.5h8.33M585.5 228.3v8.33M582.3 231.5h8.33M586.5 227.3v8.33M583.3 230.5h8.33M587.5 226.3v8.33M583.3 230.5h8.33M587.5 226.3v8.33M584.3 230.5h8.33M588.5 226.3v8.33M585.3 229.5h8.33M589.5 225.3v8.33M585.3 228.5h8.33M589.5 224.3v8.33M586.3 228.5h8.33M590.5 224.3v8.33M587.3 229.5h8.33M591.5 225.3v8.33M587.3 230.5h8.33M591.5 226.3v8.33M588.3 231.5h8.33M592.5 227.3v8.33M589.3 231.5h8.33M593.5 227.3v8.33M589.3 231.5h8.33M593.5 227.3v8.33M590.3 231.5h8.33M594.5 227.3v8.33M591.3 231.5h8.33M595.5 227.3v8.33M591.3 233.5h8.33M595.5 229.3v8.33M592.3 231.5h8.33M596.5 227.3v8.33M593.3 230.5h8.33M597.5 226.3v8.33M593.3 232.5h8.33M597.5 228.3v8.33M594.3 232.5h8.33M598.5 228.3v8.33M595.3 232.5h8.33M599.5 228.3v8.33M595.3 231.5h8.33M599.5 227.3v8.33M596.3 232.5h8.33M600.5 228.3v8.33" fill="none" stroke="#00f" stroke-width="1.389"/></g>
<polyline id="band-upper" points="110.3,218.33 112.3,218.64 114.3,219.11 116.4,219.55 118.4,219.96 120.4,220.33 122.4,220.61 124.5,220.81 126.5,220.94 128.5,221.13 130.5,221.40 132.5,221.76 134.6,222.15 136.6,222.60 138.6,223.11 140.6,223.60 142.7,224.02 144.7,224.33 146.7,224.50 148.7,224.55 150.8,224.43 152.8,224.20 154.8,223.85 156.8,223.50 158.8,223.18 160.9,222.90 162.9,222.64 164.9,222.39 166.9,222.13 169.0,221.90 171.0,221.69 173.0,221.52 175.0,221.37 177.0,221.22 179.1,221.07 181.1,220.92 183.1,220.77 185.1,220.61 187.2,220.46 189.2,220.37 191.2,220.38 193.2,220.49 195.2,220.64 197.3,220.80 199.3,220.99 201.3,221.25 203.3,221.58 205.4,221.94 207.4,222.29 209.4,222.67 211.4,223.08 213.5,223.53 215.5,223.94 217.5,224.20 219.5,224.32 221.5,224.36 223.6,224.30 225.6,224.11 227.6,223.80 229.6,223.47 231.7,223.14 233.7,222.82 235.7,222.51 237.7,222.23 239.7,221.95 241.8,221.66 243.8,221.47 245.8,221.39 247.8,221.41 249.9,221.44 251.9,221.47 253.9,221.42 255.9,221.29 257.9,221.08 260.0,220.87 262.0,220.61 264.0,220.40 266.0,220.35 268.1,220.51 270.1,220.76 272.1,221.02 274.1,221.30 276.2,221.61 278.2,221.92 280.2,221.92 282.2,221.63 284.2,221.06 286.3,220.50 288.3,220.03 290.3,219.65 292.3,219.35 294.4,219.05 296.4,218.76 298.4,218.57 300.4,218.48 302.4,218.46 304.5,218.44 306.5,218.40 308.5,218.32 310.5,218.20 312.6,218.04 314.6,217.87 316.6,217.70 318.6,217.50 320.6,217.27 322.7,217.02 324.7,216.82 326.7,216.78 328.7,216.91 330.8,217.14 332.8,217.34 334.8,217.47 336.8,217.53 338.9,217.55 340.9,217.57 342.9,217.64 344.9,217.82 346.9,218.12 349.0,218.47 351.0,218.87 353.0,219.36 355.0,219.93 357.1,220.49 359.1,220.77 361.1,220.56 363.1,219.92 365.1,219.12 367.2,218.53 369.2,218.20 371.2,218.10 373.2,218.10 375.3,218.21 377.3,218.64 379.3,219.39 381.3,220.23 383.4,220.92 385.4,221.36 387.4,221.63 389.4,221.77 391.4,221.87 393.5,221.92 395.5,221.89 397.5,221.78 399.5,221.65 401.6,221.59 403.6,221.59 405.6,221.68 407.6,221.78 409.6,221.83 411.7,221.84 413.7,221.81 415.7,221.72 417.7,221.60 419.8,221.43 421.8,221.26 423.8,221.09 425.8,220.96 427.8,220.89 429.9,220.88 431.9,220.83 433.9,220.70 435.9,220.51 438.0,220.29 440.0,220.09 442.0,219.92 444.0,219.78 446.1,219.63 448.1,219.48 450.1,219.33 452.1,219.20 454.1,219.07 456.2,218.97 458.2,218.91 460.2,218.87 462.2,218.85 464.3,218.81 466.3,218.71 468.3,218.46 470.3,217.64 472.3,216.50 474.4,215.29 476.4,214.51 478.4,214.24 480.4,214.47 482.5,215.24 484.5,216.60 486.5,218.35 488.5,220.24 490.5,221.52 492.6,222.14 494.6,222.16 496.6,221.80 498.6,221.15 500.7,220.33 502.7,219.57 504.7,218.88 506.7,218.47 508.8,218.32 510.8,218.43 512.8,218.58 514.8,218.84 516.8,219.22 518.9,219.72 520.9,220.19 522.9,220.61 524.9,220.96 527.0,221.27 529.0,221.57 531.0,221.81 533.0,222.01 535.0,222.19 537.1,222.35 539.1,222.49 541.1,222.61 543.1,222.68 545.2,222.70 547.2,222.67 549.2,222.62 551.2,222.54 553.2,222.42 555.3,222.24 557.3,222.04 559.3,221.85 561.3,221.68 563.4,221.57 565.4,221.54 567.4,221.58 569.4,221.73 571.5,221.92 573.5,221.98 575.5,221.82 577.5,221.49 579.5,221.15 581.6,220.84 583.6,220.56 585.6,220.34 587.6,220.17 589.7,220.06 591.7,219.97 593.7,219.92" fill="none" stroke="#0f0" stroke-width="0.8" stroke-linejoin="round"/>
<polyline id="band-lower" points="110.3,251.17 112.3,250.86 114.3,250.39 116.4,249.95 118.4,249.54 120.4,249.17 122.4,248.89 124.5,248.69 126.5,248.56 128.5,248.37 130.5,248.10 132.5,247.74 134.6,247.35 136.6,246.90 138.6,246.39 140.6,245.90 142.7,245.48 144.7,245.17 146.7,245.00 148.7,244.95 150.8,245.07 152.8,245.30 154.8,245.65 156.8,246.00 158.8,246.32 160.9,246.60 162.9,246.86 164.9,247.11 166.9,247.37 169.0,247.60 171.0,247.81 173.0,247.98 175.0,248.13 177.0,248.28 179.1,248.43 181.1,248.58 183.1,248.73 185.1,248.89 187.2,249.04 189.2,249.13 191.2,249.12 193.2,249.01 195.2,248.86 197.3,248.70 199.3,248.51 201.3,248.25 203.3,247.92 205.4,247.56 207.4,247.21 209.4,246.83 211.4,246.42 213.5,245.97 215.5,245.56 217.5,245.30 219.5,245.18 221.5,245.14 223.6,245.20 225.6,245.39 227.6,245.70 229.6,246.03 231.7,246.36 233.7,246.68 235.7,246.99 237.7,247.27 239.7,247.55 241.8,247.84 243.8,248.03 245.8,248.11 247.8,248.09 249.9,248.06 251.9,248.03 253.9,248.08 255.9,248.21 257.9,248.42 260.0,248.63 262.0,248.89 264.0,249.10 266.0,249.15 268.1,248.99 270.1,248.74 272.1,248.48 274.1,248.20 276.2,247.89 278.2,247.58 280.2,247.58 282.2,247.87 284.2,248.44 286.3,249.00 288.3,249.47 290.3,249.85 292.3,250.15 294.4,250.45 296.4,250.74 298.4,250.93 300.4,251.02 302.4,251.04 304.5,251.06 306.5,251.10 308.5,251.18 310.5,251.30 312.6,251.46 314.6,251.63 316.6,251.80 318.6,252.00 320.6,252.23 322.7,252.48 324.7,252.68 326.7,252.72 328.7,252.59 330.8,252.36 332.8,252.16 334.8,252.03 336.8,251.97 338.9,251.95 340.9,251.93 342.9,251.86 344.9,251.68 346.9,251.38 349.0,251.03 351.0,250.63 353.0,250.14 355.0,249.57 357.1,249.01 359.1,248.73 361.1,248.94 363.1,249.58 365.1,250.38 367.2,250.97 369.2,251.30 371.2,251.40 373.2,251.40 375.3,251.29 377.3,250.86 379.3,250.11 381.3,249.27 383.4,248.58 385.4,248.14 387.4,247.87 389.4,247.73 391.4,247.63 393.5,247.58 395.5,247.61 397.5,247.72 399.5,247.85 401.6,247.91 403.6,247.91 405.6,247.82 407.6,247.72 409.6,247.67 411.7,247.66 413.7,247.69 415.7,247.78 417.7,247.90 419.8,248.07 421.8,248.24 423.8,248.41 425.8,248.54 427.8,248.61 429.9,248.62 431.9,248.67 433.9,248.80 435.9,248.99 438.0,249.21 440.0,249.41 442.0,249.58 444.0,249.72 446.1,249.87 448.1,250.02 450.1,250.17 452.1,250.30 454.1,250.43 456.2,250.53 458.2,250.59 460.2,250.63 462.2,250.65 464.3,250.69 466.3,250.79 468.3,251.04 470.3,251.86 472.3,253.00 474.4,254.21 476.4,254.99 478.4,255.26 480.4,255.03 482.5,254.26 484.5,252.90 486.5,251.15 488.5,249.26 490.5,247.98 492.6,247.36 494.6,247.34 496.6,247.70 498.6,248.35 500.7,249.17 502.7,249.93 504.7,250.62 506.7,251.03 508.8,251.18 510.8,251.07 512.8,250.92 514.8,250.66 516.8,250.28 518.9,249.78 520.9,249.31 522.9,248.89 524.9,248.54 527.0,248.23 529.0,247.93 531.0,247.69 533.0,247.49 535.0,247.31 537.1,247.15 539.1,247.01 541.1,246.89 543.1,246.82 545.2,246.80 547.2,246.83 549.2,246.88 551.2,246.96 553.2,247.08 555.3,247.26 557.3,247.46 559.3,247.65 561.3,247.82 563.4,247.93 565.4,247.96 567.4,247.92 569.4,247.77 571.5,247.58 573.5,247.52 575.5,247.68 577.5,248.01 579.5,248.35 581.6,248.66 583.6,248.94 585.6,249.16 587.6,249.33 589.7,249.44 591.7,249.53 593.7,249.58" fill="none" stroke="#0f0" stroke-width="0.8" stroke-linejoin="round"/>
<line id="mean" x1="103.0" y1="235.5" x2="600.9" y2="235.5" stroke="#f00" stroke-width="1.04"/>
<g id="ticks" stroke="#000" stroke-width="1.111">
<line x1="126.5" y1="422.5" x2="126.5" y2="427.5"/><line x1="192.5" y1="422.5" x2="192.5" y2="427.5"/><line x1="259.5" y1="422.5" x2="259.5" y2="427.5"/><line x1="325.5" y1="422.5" x2="325.5" y2="427.5"/><line x1="391.5" y1="422.5" x2="391.5" y2="427.5"/><line x1="457.5" y1="422.5" x2="457.5" y2="427.5"/><line x1="524.5" y1="422.5" x2="524.5" y2="427.5"/><line x1="590.5" y1="422.5" x2="590.5" y2="427.5"/><line x1="73.5" y1="76.5" x2="78.5" y2="76.5"/><line x1="73.5" y1="153.5" x2="78.5" y2="153.5"/><line x1="73.5" y1="230.5" x2="78.5" y2="230.5"/><line x1="73.5" y1="306.5" x2="78.5" y2="306.5"/><line x1="73.5" y1="383.5" x2="78.5" y2="383.5"/>
</g>
<rect id="frame" x="78.5" y="37.5" width="547" height="385" fill="none" stroke="#000" stroke-width="1.111"/>
<g id="labels">
<text class="t" x="104.888 112.638 121.388 130.137 138.887" y="442.00">90000</text>
<text class="t" x="165.938 173.688 182.438 191.188 199.938 208.688" y="442.00">100000</text>
<text class="t" x="232.925 240.925 249.675 258.425 267.175 275.925" y="442.00">110000</text>
<text class="t" x="298.912 306.662 315.412 324.162 332.912 341.662" y="442.00">120000</text>
<text class="t" x="364.962 372.712 381.462 390.212 398.962 407.712" y="442.00">130000</text>
<text class="t" x="431.887 439.637 448.387 457.137 465.887 474.637" y="442.00">140000</text>
<text class="t" x="497.938 505.688 514.438 523.188 531.938 540.688" y="442.00">150000</text>
<text class="t" x="563.925 571.925 580.675 589.425 598.175 606.925" y="442.00">160000</text>
<text class="t" x="46.930 55.680 58.930" y="81.00">0.2</text>
<text class="t" x="46.930 55.680 59.180" y="158.00">0.1</text>
<text class="t" x="46.930 55.680 58.930" y="235.00">0.0</text>
<text class="t" x="34.930 45.430 54.180 58.680" y="312.00">−0.1</text>
<text class="t" x="34.930 45.430 54.305 58.680" y="389.00">−0.2</text>
<text class="t" transform="translate(0 463.00) scale(1 1.040)" x="314.950 323.075 326.950 340.450 349.075 353.450 358.825 365.950 374.450 382.075" y="0">Time (sec)</text>
<text class="h" transform="translate(0 29.00) scale(1 1.080)" x="75.950 86.075 96.700 102.450 112.950 123.450 128.700 140.075 150.700 157.200 162.325 172.450 182.700 189.700 196.200 200.825 209.700 219.950 224.200 229.950 242.700 247.325 253.200 259.075 269.450 275.700 285.950 296.575 305.700 315.950 321.200 326.700 342.700 352.950 363.200 373.700 379.450 384.700 390.450 400.950 406.200 416.700 427.200 432.700 448.950 465.200 470.450 475.825 489.450 493.950 504.450 515.075 525.075 538.700 552.700 563.325 573.700 584.450 589.450 598.200 608.575 617.700" y="0">P4-05 Ant Vertical Difference, mean: -6.94 mm, window=120 secs</text>
<text class="t" transform="translate(26.00 337.34) rotate(-90) scale(1 1.030)" x="-0.750 8.750 17.500 23.000 31.500 40.250 49.000 57.625 62.125 70.625 79.000 84.750 90.250 94.125 101.750 110.250 114.375 118.500 129.375 133.250 138.250 143.250 151.750 157.250 165.750 174.375 182.000 190.500 196.000 209.500" y="0">Antenna Vertical Difference(m)</text>
</g>
</svg>
</body>
</html>
